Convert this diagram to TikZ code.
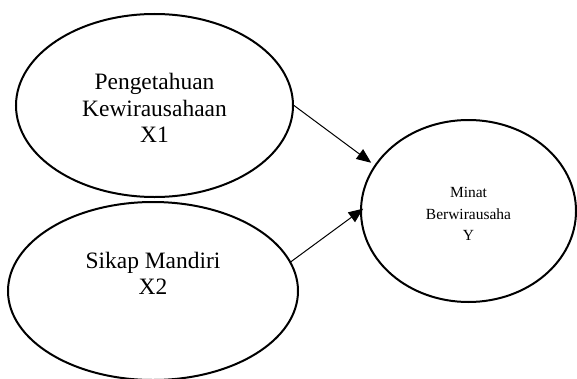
\documentclass[tikz,border=0pt]{standalone}
\usepackage{fontspec}
\setmainfont{Liberation Serif}
\usetikzlibrary{shapes.geometric,arrows.meta}
\begin{document}
\begin{tikzpicture}[x=0.75pt,y=-0.75pt,
	var/.style={draw,ellipse,line width=1.5pt,inner sep=0pt},
	bigtxt/.style={align=center,font=\fontsize{17.6}{20}\selectfont},
	smalltxt/.style={align=center,font=\fontsize{11.6}{16.3}\selectfont},
	link/.style={-{Triangle[length=11pt,width=9pt]},line width=0.75pt}]
	\useasboundingbox (0,0) rectangle (577,378);
	\clip (0,0) rectangle (577,378);
	\node[var,minimum width=207.75pt,minimum height=137.25pt] (x1) at (154.5,105.5) {};
	\node[var,minimum width=217.5pt,minimum height=133.5pt] (x2) at (153,291) {};
	\node[var,minimum width=161.25pt,minimum height=136.5pt] (y) at (468.5,211) {};
	\node[bigtxt] (x1txt) at (154.5,108) {Pengetahuan\\Kewirausahaan\\X1};
	\node[bigtxt] (x2txt) at (153,273.5) {Sikap Mandiri\\X2};
	\node[smalltxt] (ytxt) at (468.5,214) {Minat\\Berwirausaha\\Y};
	\draw[link,shorten >=3pt] (x1.east) -- (y.154);
	\draw[link,shorten >=-3pt] (x2.12) -- (y.west);
\end{tikzpicture}
\end{document}
